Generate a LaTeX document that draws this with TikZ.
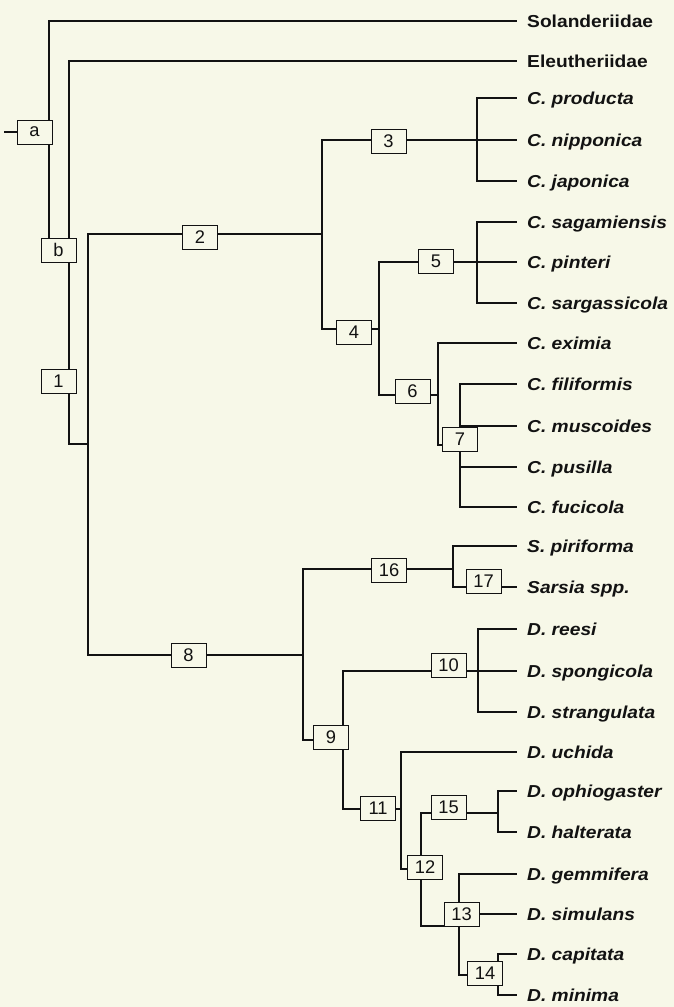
\documentclass[tikz,border=0pt]{standalone}
\usepackage{fontspec}
\setmainfont{Liberation Sans}
\newfontfamily\leaffont{Liberation Sans}[FakeStretch=1.11]
\definecolor{bg}{RGB}{247,248,232}
\definecolor{ink}{RGB}{18,18,18}
\tikzset{
  br/.style={line width=2.3pt, draw=ink, line cap=rect, line join=miter},
  nbox/.style={draw=ink, line width=1pt, fill=bg, minimum width=35pt, minimum height=24pt, inner sep=0pt, font=\fontsize{18.3}{18.3}\selectfont, text=ink},
  leaf/.style={anchor=west, inner xsep=11pt, inner ysep=0pt, text height=12.3pt, text depth=0pt, text=ink, font=\leaffont\bfseries\itshape\fontsize{17.3}{17.3}\selectfont},
  fam/.style={leaf, font=\leaffont\bfseries\fontsize{17.3}{17.3}\selectfont}
}
\begin{document}
\begin{tikzpicture}[x=1pt,y=-1pt]
\fill[bg] (0,0) rectangle (674,1007);
\useasboundingbox (0,0) rectangle (674,1007);
% leaves
\node[fam]  (l0)  at (516,21)  {Solanderiidae};
\node[fam]  (l1)  at (516,61)  {Eleutheriidae};
\node[leaf] (l2)  at (516,98)  {C. producta};
\node[leaf] (l3)  at (516,140) {C. nipponica};
\node[leaf] (l4)  at (516,181) {C. japonica};
\node[leaf] (l5)  at (516,222) {C. sagamiensis};
\node[leaf] (l6)  at (516,262) {C. pinteri};
\node[leaf] (l7)  at (516,303) {C. sargassicola};
\node[leaf] (l8)  at (516,343) {C. eximia};
\node[leaf] (l9)  at (516,384) {C. filiformis};
\node[leaf] (l10) at (516,426) {C. muscoides};
\node[leaf] (l11) at (516,467) {C. pusilla};
\node[leaf] (l12) at (516,507) {C. fucicola};
\node[leaf] (l13) at (516,546) {S. piriforma};
\node[leaf] (l14) at (516,587) {Sarsia spp.};
\node[leaf] (l15) at (516,629) {D. reesi};
\node[leaf] (l16) at (516,671) {D. spongicola};
\node[leaf] (l17) at (516,712) {D. strangulata};
\node[leaf] (l18) at (516,752) {D. uchida};
\node[leaf] (l19) at (516,791) {D. ophiogaster};
\node[leaf] (l20) at (516,832) {D. halterata};
\node[leaf] (l21) at (516,874) {D. gemmifera};
\node[leaf] (l22) at (516,914) {D. simulans};
\node[leaf] (l23) at (516,954) {D. capitata};
\node[leaf] (l24) at (516,995) {D. minima};
% junctions
\coordinate (r)   at (5,132);
\coordinate (Jr)  at (49,132);
\coordinate (Jr2) at (49,250);
\coordinate (Jb)  at (69,250);
\coordinate (Jc)  at (88,444);
\coordinate (J2)  at (322,234);
\coordinate (J3)  at (477,140);
\coordinate (J4)  at (379,329);
\coordinate (J5)  at (477,262);
\coordinate (J6)  at (438,395);
\coordinate (J7)  at (460,445);
\coordinate (J8)  at (303,655);
\coordinate (J16) at (453,569);
\coordinate (J9)  at (343,740);
\coordinate (J10) at (478,671);
\coordinate (J11) at (401,809);
\coordinate (J12) at (421,869);
\coordinate (J15) at (498,813);
\coordinate (J13) at (459,926);
\coordinate (J14) at (498,975);
% branches
\draw[br] (r) -- (Jr);
\draw[br] (Jr) |- (l0.west);
\draw[br] (Jr) -- (Jr2);
\draw[br] (Jb) |- (l1.west);
\draw[br] (Jb) |- (Jc);
\draw[br] (Jc) |- (J2);
\draw[br] (Jc) |- (J8);
\draw[br] (J2) |- (J3);
\draw[br] (J2) |- (J4);
\draw[br] (J3) |- (l2.west);
\draw[br] (J3) -- (l3.west);
\draw[br] (J3) |- (l4.west);
\draw[br] (J4) |- (J5);
\draw[br] (J4) |- (J6);
\draw[br] (J5) |- (l5.west);
\draw[br] (J5) -- (l6.west);
\draw[br] (J5) |- (l7.west);
\draw[br] (J6) |- (l8.west);
\draw[br] (J6) |- (J7);
\draw[br] (J7) |- (l9.west);
\draw[br] (J7) |- (l10.west);
\draw[br] (J7) |- (l11.west);
\draw[br] (J7) |- (l12.west);
\draw[br] (J8) |- (J16);
\draw[br] (J8) |- (J9);
\draw[br] (J16) |- (l13.west);
\draw[br] (J16) |- (l14.west);
\draw[br] (J9) |- (J10);
\draw[br] (J9) |- (J11);
\draw[br] (J10) |- (l15.west);
\draw[br] (J10) -- (l16.west);
\draw[br] (J10) |- (l17.west);
\draw[br] (J11) |- (l18.west);
\draw[br] (J11) |- (J12);
\draw[br] (J12) |- (J15);
\draw[br] (J12) |- (J13);
\draw[br] (J15) |- (l19.west);
\draw[br] (J15) |- (l20.west);
\draw[br] (J13) |- (l21.west);
\draw[br] (J13) |- (l22.west);
\draw[br] (J13) |- (J14);
\draw[br] (J14) |- (l23.west);
\draw[br] (J14) |- (l24.west);
% boxes
\node[nbox] (a)   at (34.5,132) {a};
\node[nbox] (b)   at (58.5,250) {b};
\node[nbox] (n1)  at (58.5,381) {1};
\node[nbox] (n2)  at (200,237)  {2};
\node[nbox] (n3)  at (388.5,141){3};
\node[nbox] (n4)  at (354,332)  {4};
\node[nbox] (n5)  at (436,261)  {5};
\node[nbox] (n6)  at (412.5,391){6};
\node[nbox] (n7)  at (460,439)  {7};
\node[nbox] (n8)  at (188.5,655){8};
\node[nbox] (n9)  at (331,737)  {9};
\node[nbox] (n10) at (448.5,665){10};
\node[nbox] (n11) at (378,808)  {11};
\node[nbox] (n12) at (425,867)  {12};
\node[nbox] (n13) at (461.5,914){13};
\node[nbox] (n14) at (485,973)  {14};
\node[nbox] (n15) at (448.5,807){15};
\node[nbox] (n16) at (389,570)  {16};
\node[nbox] (n17) at (483.5,581){17};
\end{tikzpicture}
\end{document}
